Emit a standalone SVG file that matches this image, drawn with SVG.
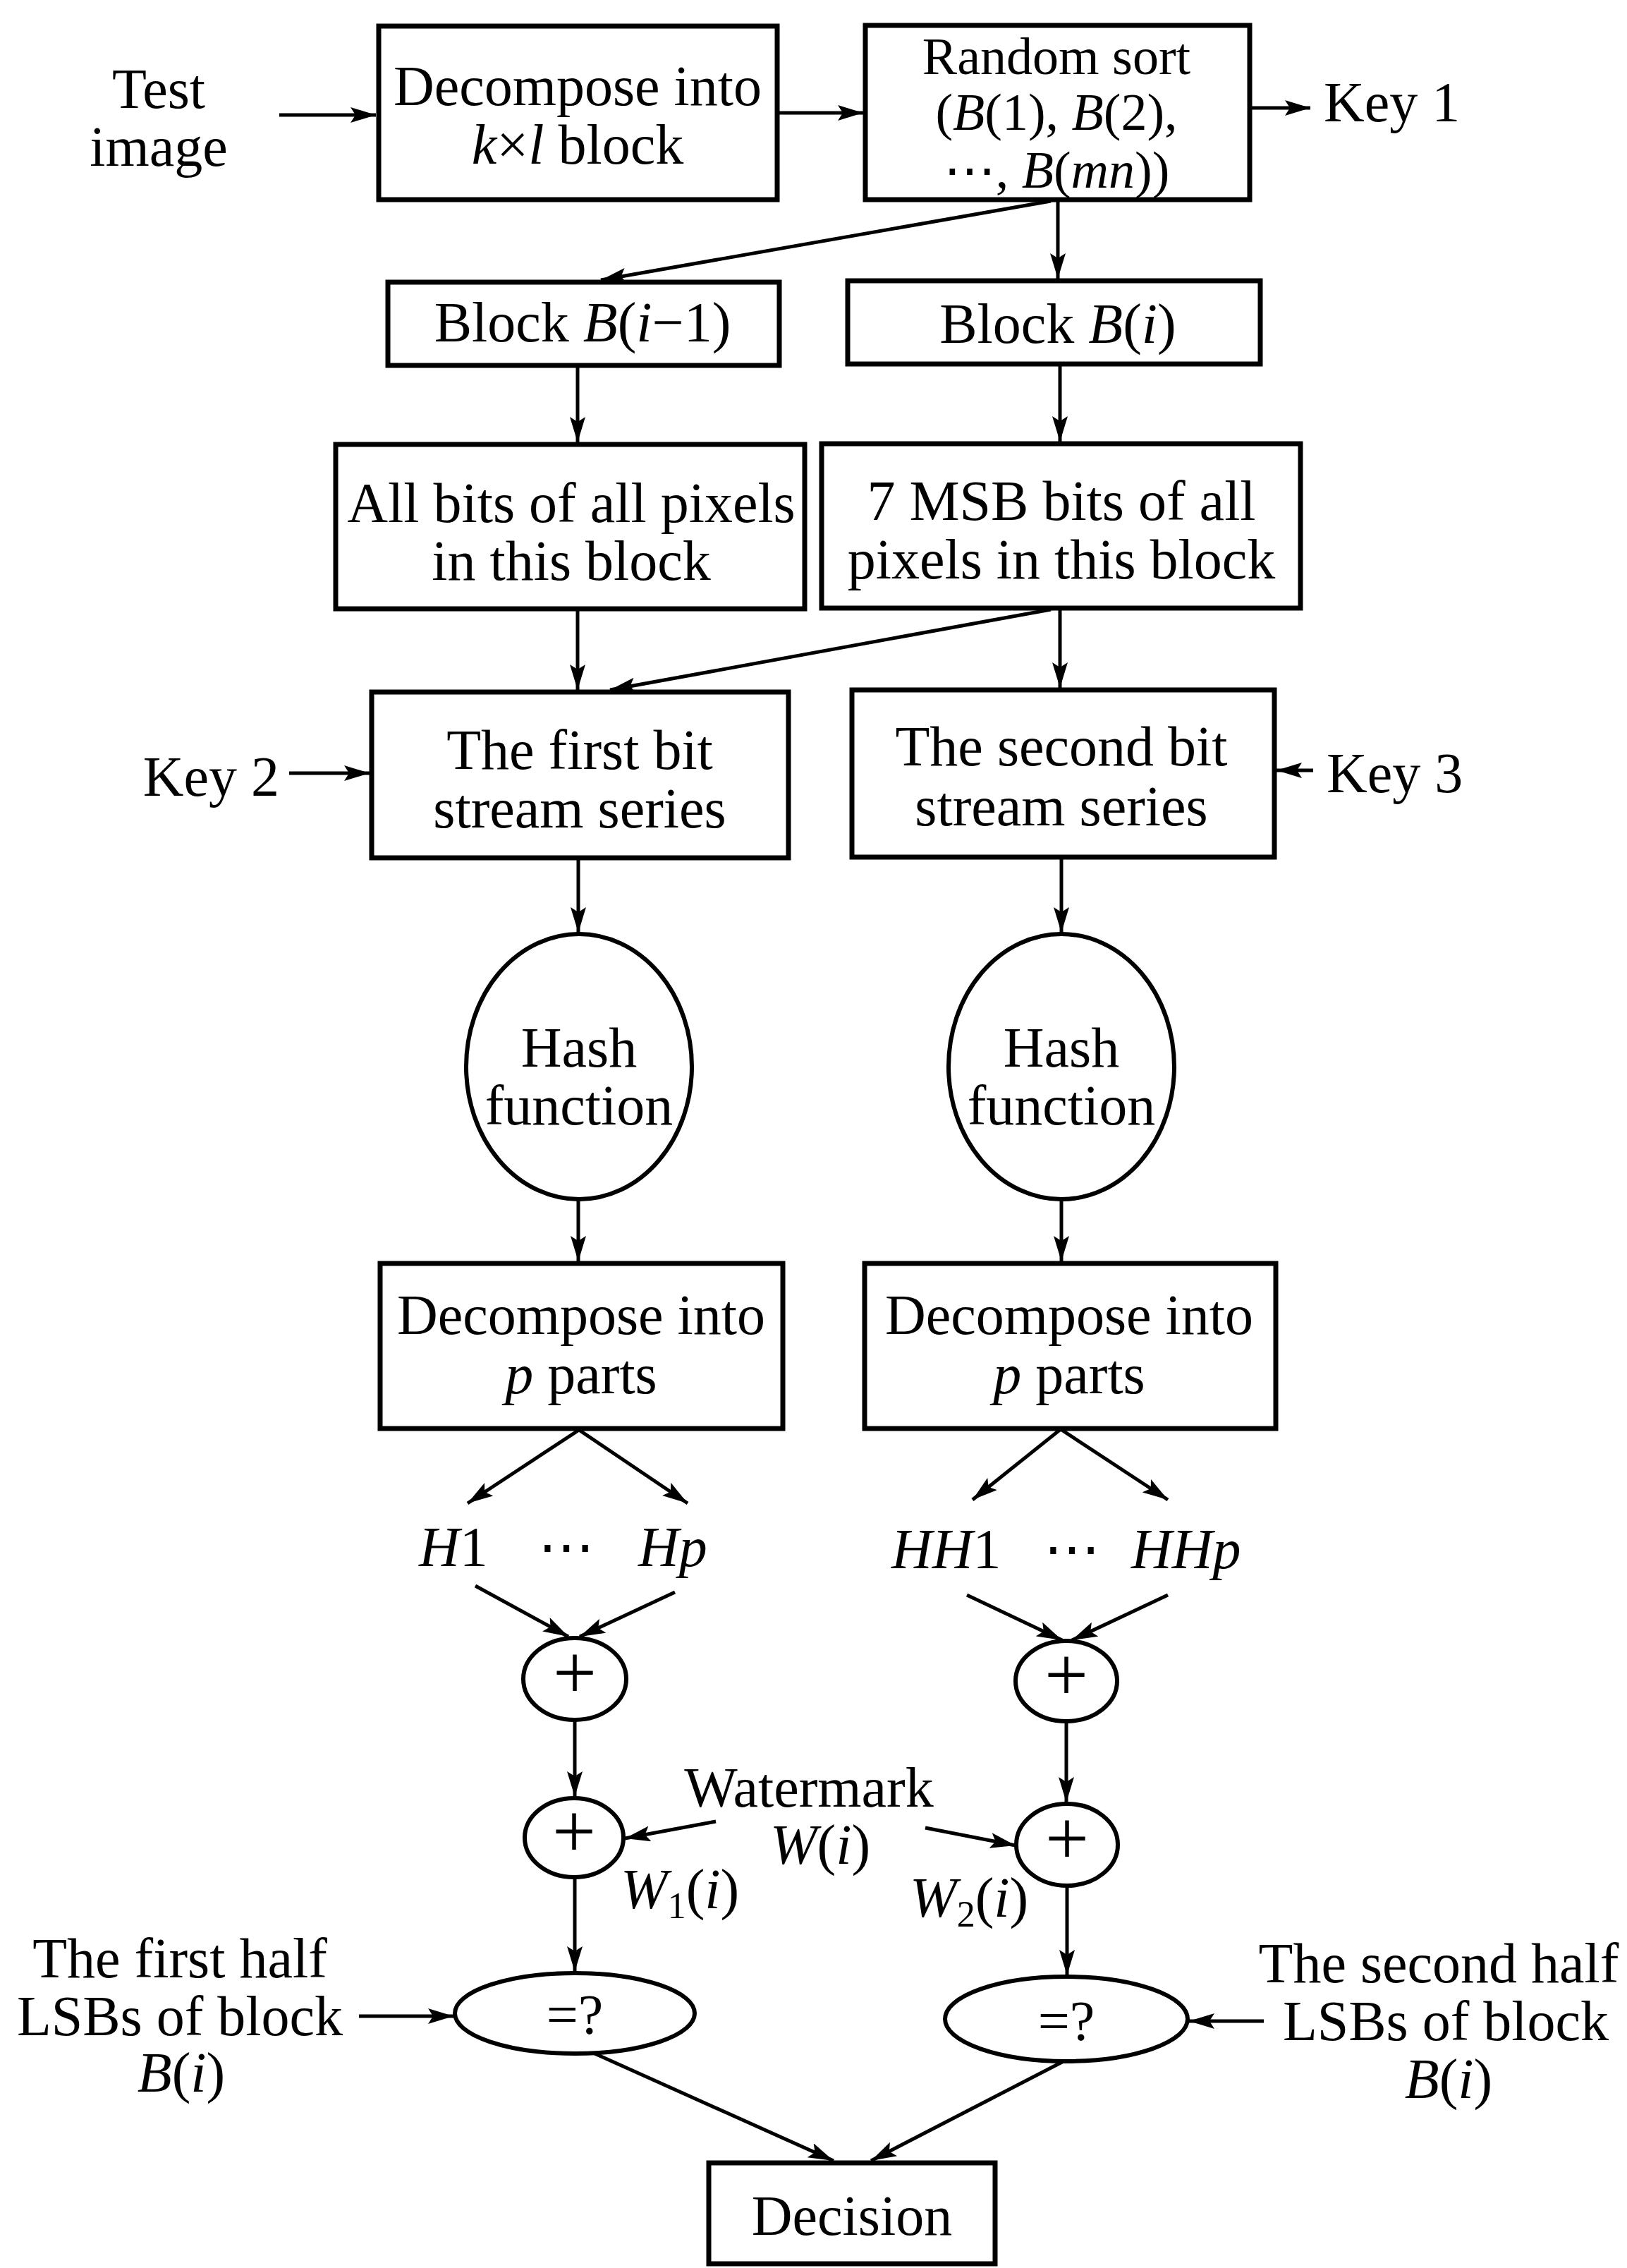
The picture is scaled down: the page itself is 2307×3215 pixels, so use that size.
<svg xmlns="http://www.w3.org/2000/svg" width="2307" height="3215" viewBox="0 0 2307 3215">
<style>
.bg{fill:#fff}
.box{fill:#fff;stroke:#000;stroke-width:7}
.ell{fill:#fff;stroke:#000;stroke-width:6}
.t{font-family:"Liberation Serif","DejaVu Serif",serif;font-size:80px;fill:#000;text-anchor:middle}
.rs{font-size:74px}
.pl{font-size:110px}
.s{text-anchor:start}
.e{text-anchor:end}
.i{font-style:italic}
.sub{font-size:52px}
.c{fill:none;stroke:#000;stroke-width:5;marker-end:url(#ah)}
</style>
<defs>
<marker id="ah" markerUnits="userSpaceOnUse" markerWidth="38" markerHeight="22" refX="36" refY="11" orient="auto">
<path d="M0,0 L36,11 L0,22 L7,11 z" fill="#000"/>
</marker>
</defs>
<rect class="bg" x="0" y="0" width="2307" height="3215"/>

<g id="connectors">
<path class="c" d="M396,163 L533,163"/>
<path class="c" d="M1102,160 L1224,160"/>
<path class="c" d="M1772,153 L1858,153"/>
<path class="c" d="M1490,285 L852,397"/>
<path class="c" d="M1500,283 L1500,395"/>
<path class="c" d="M819,519 L819,627"/>
<path class="c" d="M1503,517 L1503,626"/>
<path class="c" d="M819,864 L819,978"/>
<path class="c" d="M1490,864 L865,978"/>
<path class="c" d="M1503,862 L1503,975"/>
<path class="c" d="M410,1096 L524,1096"/>
<path class="c" d="M1862,1092 L1810,1092"/>
<path class="c" d="M820,1216 L820,1322"/>
<path class="c" d="M1505,1216 L1505,1322"/>
<path class="c" d="M820,1700 L820,1788"/>
<path class="c" d="M1505,1700 L1505,1788"/>
<path class="c" d="M821,2027 L663,2131"/>
<path class="c" d="M821,2027 L975,2131"/>
<path class="c" d="M674,2248 L806,2320"/>
<path class="c" d="M957,2257 L822,2320"/>
<path class="c" d="M1504,2026 L1379,2126"/>
<path class="c" d="M1504,2026 L1656,2126"/>
<path class="c" d="M1371,2261 L1506,2325"/>
<path class="c" d="M1656,2261 L1520,2325"/>
<path class="c" d="M815,2438 L815,2547"/>
<path class="c" d="M1512,2440 L1512,2555"/>
<path class="c" d="M1015,2582 L886,2606"/>
<path class="c" d="M1312,2591 L1440,2616"/>
<path class="c" d="M815,2661 L815,2795"/>
<path class="c" d="M1513,2673 L1513,2800"/>
<path class="c" d="M509,2858 L643,2858"/>
<path class="c" d="M1792,2865 L1686,2865"/>
<path class="c" d="M841,2910 L1182,3063"/>
<path class="c" d="M1510,2921 L1235,3063"/>
</g>

<g id="test-image">
<text class="t" x="225" y="153">Test</text>
<text class="t" x="225" y="235">image</text>
</g>

<g id="decompose-blocks">
<rect class="box" x="537" y="37" width="565" height="246"/>
<text class="t" x="819" y="149">Decompose into</text>
<text class="t" x="819" y="232"><tspan class="i">k</tspan>×<tspan class="i">l</tspan> block</text>
</g>

<g id="random-sort">
<rect class="box" x="1227" y="36" width="545" height="247"/>
<text class="t rs" x="1498" y="105">Random sort</text>
<text class="t rs" x="1498" y="184">(<tspan class="i">B</tspan>(1), <tspan class="i">B</tspan>(2),</text>
<text class="t rs" x="1498" y="266">⋯, <tspan class="i">B</tspan>(<tspan class="i">mn</tspan>))</text>
</g>

<g id="key1"><text class="t s" x="1877" y="172">Key 1</text></g>

<g id="block-bi-1">
<rect class="box" x="550" y="400" width="555" height="118"/>
<text class="t" x="826" y="484">Block <tspan class="i">B</tspan>(<tspan class="i">i</tspan>−1)</text>
</g>

<g id="block-bi">
<rect class="box" x="1202" y="398" width="585" height="118"/>
<text class="t" x="1500" y="486">Block <tspan class="i">B</tspan>(<tspan class="i">i</tspan>)</text>
</g>

<g id="all-bits">
<rect class="box" x="476" y="630" width="665" height="233"/>
<text class="t" x="810" y="740">All bits of all pixels</text>
<text class="t" x="810" y="822">in this block</text>
</g>

<g id="msb-bits">
<rect class="box" x="1165" y="629" width="679" height="233"/>
<text class="t" x="1505" y="737">7 MSB bits of all</text>
<text class="t" x="1505" y="820">pixels in this block</text>
</g>

<g id="first-stream">
<rect class="box" x="527" y="981" width="591" height="235"/>
<text class="t" x="822" y="1090">The first bit</text>
<text class="t" x="822" y="1173">stream series</text>
</g>

<g id="key2"><text class="t e" x="396" y="1128">Key 2</text></g>

<g id="second-stream">
<rect class="box" x="1208" y="978" width="599" height="237"/>
<text class="t" x="1505" y="1085">The second bit</text>
<text class="t" x="1505" y="1170">stream series</text>
</g>

<g id="key3"><text class="t s" x="1881" y="1123">Key 3</text></g>

<g id="hash1">
<ellipse class="ell" cx="821" cy="1512" rx="160" ry="188"/>
<text class="t" x="821" y="1512">Hash</text>
<text class="t" x="821" y="1594">function</text>
</g>

<g id="hash2">
<ellipse class="ell" cx="1505" cy="1512" rx="160" ry="188"/>
<text class="t" x="1505" y="1512">Hash</text>
<text class="t" x="1505" y="1594">function</text>
</g>

<g id="decompose-p1">
<rect class="box" x="539" y="1791" width="571" height="234"/>
<text class="t" x="824" y="1891">Decompose into</text>
<text class="t" x="824" y="1975"><tspan class="i">p</tspan> parts</text>
</g>

<g id="decompose-p2">
<rect class="box" x="1226" y="1791" width="583" height="234"/>
<text class="t" x="1516" y="1891">Decompose into</text>
<text class="t" x="1516" y="1975"><tspan class="i">p</tspan> parts</text>
</g>

<g id="h-parts">
<text class="t s" x="594" y="2220"><tspan class="i">H</tspan>1</text>
<text class="t" x="803" y="2220">⋯</text>
<text class="t s" x="905" y="2220"><tspan class="i">Hp</tspan></text>
</g>

<g id="hh-parts">
<text class="t s" x="1264" y="2223"><tspan class="i">HH</tspan>1</text>
<text class="t" x="1520" y="2223">⋯</text>
<text class="t s" x="1604" y="2223"><tspan class="i">HHp</tspan></text>
</g>

<g id="sum1">
<ellipse class="ell" cx="815" cy="2380" rx="73" ry="58"/>
<text class="t pl" x="815" y="2408">+</text>
</g>

<g id="sum2">
<ellipse class="ell" cx="1512" cy="2383" rx="72" ry="57"/>
<text class="t pl" x="1512" y="2411">+</text>
</g>

<g id="add1">
<ellipse class="ell" cx="814" cy="2605" rx="70" ry="56"/>
<text class="t pl" x="814" y="2633">+</text>
</g>

<g id="add2">
<ellipse class="ell" cx="1513" cy="2615" rx="72" ry="58"/>
<text class="t pl" x="1513" y="2643">+</text>
</g>

<g id="watermark">
<text class="t" x="1147" y="2561">Watermark</text>
<text class="t" x="1163" y="2642"><tspan class="i">W</tspan>(<tspan class="i">i</tspan>)</text>
</g>

<g id="w1-label"><text class="t s" x="880" y="2705"><tspan class="i">W</tspan><tspan class="sub" dy="14">1</tspan><tspan dy="-14">(</tspan><tspan class="i">i</tspan>)</text></g>
<g id="w2-label"><text class="t s" x="1290" y="2717"><tspan class="i">W</tspan><tspan class="sub" dy="14">2</tspan><tspan dy="-14">(</tspan><tspan class="i">i</tspan>)</text></g>

<g id="compare1">
<ellipse class="ell" cx="815" cy="2854" rx="170" ry="57"/>
<text class="t" x="815" y="2883">=?</text>
</g>

<g id="compare2">
<ellipse class="ell" cx="1512" cy="2862" rx="172" ry="60"/>
<text class="t" x="1512" y="2892">=?</text>
</g>

<g id="first-half-lsb">
<text class="t" x="255" y="2803">The first half</text>
<text class="t" x="255" y="2885">LSBs of block</text>
<text class="t" x="257" y="2965"><tspan class="i">B</tspan>(<tspan class="i">i</tspan>)</text>
</g>

<g id="second-half-lsb">
<text class="t" x="2040" y="2810">The second half</text>
<text class="t" x="2050" y="2892">LSBs of block</text>
<text class="t" x="2054" y="2974"><tspan class="i">B</tspan>(<tspan class="i">i</tspan>)</text>
</g>

<g id="decision">
<rect class="box" x="1005" y="3066" width="406" height="143"/>
<text class="t" x="1208" y="3168">Decision</text>
</g>
</svg>
